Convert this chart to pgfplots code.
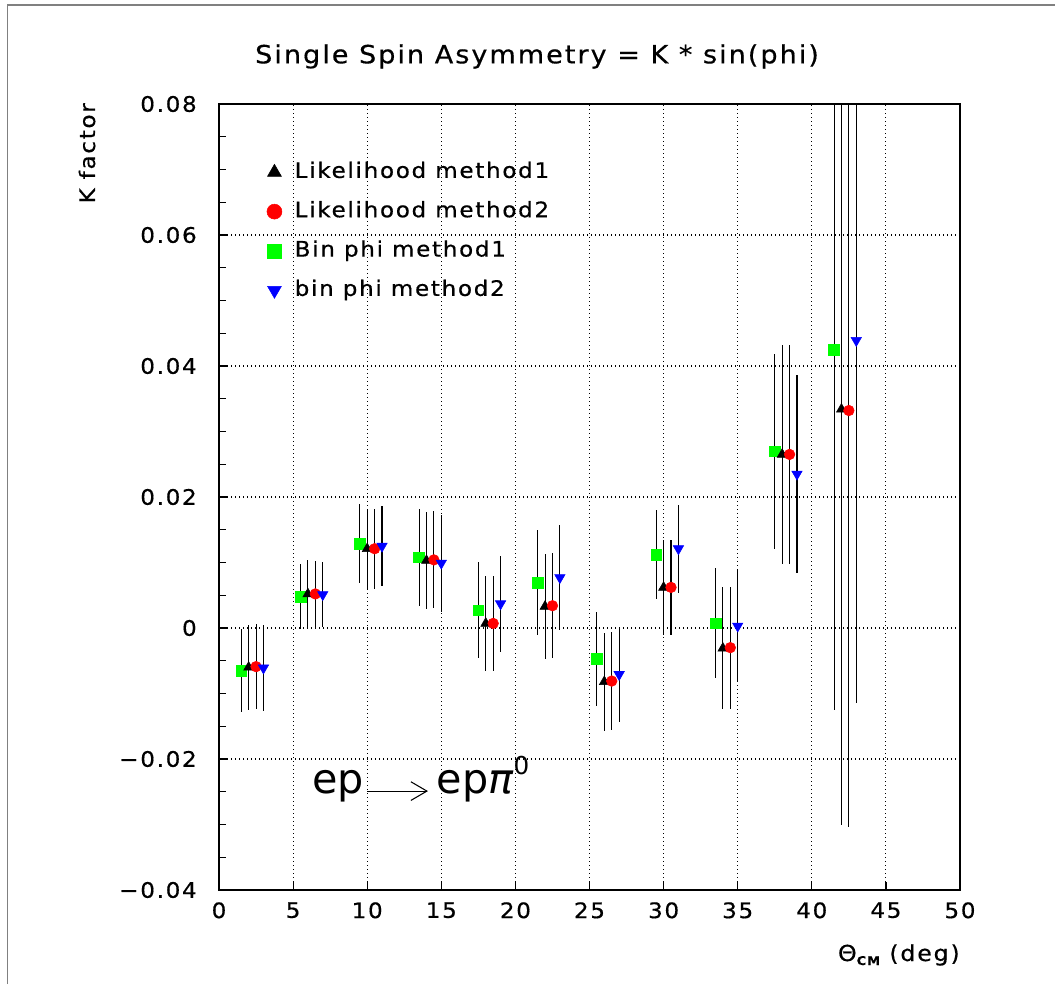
\documentclass[border=0pt]{standalone}
\usepackage{fontspec}
\setmainfont[LetterSpace=8, FakeStretch=1.08, FakeBold=0.5]{DejaVu Sans}
\newfontfamily\plainsans{DejaVu Sans}
\usepackage{pgfplots}
\pgfplotsset{compat=1.18}
\usetikzlibrary{arrows.meta}

\definecolor{pawred}{RGB}{255,0,0}
\definecolor{pawgreen}{RGB}{0,255,0}
\definecolor{pawblue}{RGB}{0,0,255}

\begin{document}
\begin{tikzpicture}
\useasboundingbox (-164.25pt,-70.5pt) rectangle (627pt,667.5pt);
% outer frame (only top and left visible)
\draw[gray, line width=1.1pt] (-158.6pt,-70.5pt) -- (-158.6pt,663.75pt) -- (627pt,663.75pt);
\begin{axis}[
    at={(0pt,0pt)}, anchor=south west,
    scale only axis, width=555.75pt, height=589.5pt,
    xmin=0, xmax=50, ymin=-0.04, ymax=0.08,
    xtick={0,5,10,15,20,25,30,35,40,45,50},
    xticklabels={0,5,10,15,20,25,30,35,40,45,50},
    ytick={-0.04,-0.02,0,0.02,0.04,0.06,0.08},
    yticklabels={−0.04,−0.02,0,0.02,0.04,0.06,0.08},
    scaled y ticks=false,
    minor y tick num=3,
    tick pos=left, tick align=inside,
    major tick length=6pt, minor tick length=5pt,
    every tick/.style={black, line width=0.9pt},
    grid=major,
    major grid style={black, line width=0.8pt, dash pattern=on 0.8pt off 2.2pt},
    axis line style={line width=1.2pt},
    ticklabel style={font=\fontsize{16}{19}\selectfont, inner sep=0pt},
    xticklabel style={yshift=-9pt},
    yticklabel style={xshift=-16.5pt},
    legend style={at={(0.059,0.9304)}, anchor=north west, draw=none, fill=none,
        font=\fontsize{16}{19}\selectfont, row sep=13.5pt, column sep=9.6pt,
        nodes={inner sep=0pt, text height=12.2pt, text depth=3.8pt}},
    legend cell align=left,
    legend image code/.code={\draw[#1] plot coordinates {(0pt,0pt)};},
    legend entries={Likelihood method1, Likelihood method2, Bin phi method1, bin phi method2},
    error bars/y dir=both, error bars/y explicit,
    error bars/error mark=none,
    error bars/error bar style={black, line width=0.8pt, solid},
]
\addlegendimage{only marks, mark=triangle*, mark size=6pt, black}
\addlegendimage{only marks, mark=*, mark size=5.6pt, pawred}
\addlegendimage{only marks, mark=square*, mark size=5.4pt, pawgreen}
\addlegendimage{only marks, mark=triangle*, mark size=6pt, pawblue, mark options={rotate=180}}

% Bin phi method1
\addplot[forget plot, only marks, mark=square*, mark size=4pt, pawgreen] coordinates {
  (1.5,-0.0065) +- (0,0.0064)
  (5.5,0.0048) +- (0,0.0049)
  (9.5,0.0129) +- (0,0.0060)
  (13.5,0.0108) +- (0,0.0074)
  (17.5,0.0027) +- (0,0.0073)
  (21.5,0.0069) +- (0,0.0080)
  (25.5,-0.0047) +- (0,0.0072)
  (29.5,0.0112) +- (0,0.0068)
  (33.5,0.0007) +- (0,0.0084)
  (37.5,0.0270) +- (0,0.0149)
  (41.5,0.0425) +- (0,0.0550)
};
% Likelihood method1
\addplot[forget plot, only marks, mark=triangle*, mark size=4.3pt, black] coordinates {
  (2,-0.0060) +- (0,0.0065)
  (6,0.0052) +- (0,0.0052)
  (10,0.0121) +- (0,0.0061)
  (14,0.0103) +- (0,0.0074)
  (18,0.0007) +- (0,0.0072)
  (22,0.0033) +- (0,0.0080)
  (26,-0.0082) +- (0,0.0075)
  (30,0.0062) +- (0,0.0072)
  (34,-0.0031) +- (0,0.0093)
  (38,0.0265) +- (0,0.0167)
  (42,0.0334) +- (0,0.0634)
};
% Likelihood method2
\addplot[forget plot, only marks, mark=*, mark size=4pt, pawred] coordinates {
  (2.5,-0.0059) +- (0,0.0065)
  (6.5,0.0052) +- (0,0.0051)
  (10.5,0.0121) +- (0,0.0061)
  (14.5,0.0104) +- (0,0.0074)
  (18.5,0.0007) +- (0,0.0072)
  (22.5,0.0034) +- (0,0.0080)
  (26.5,-0.0081) +- (0,0.0075)
  (30.5,0.0062) +- (0,0.0072)
  (34.5,-0.0030) +- (0,0.0093)
  (38.5,0.0265) +- (0,0.0167)
  (42.5,0.0332) +- (0,0.0636)
};
% bin phi method2
\addplot[forget plot, only marks, mark=triangle*, mark size=4.5pt, pawblue, mark options={rotate=180}] coordinates {
  (3,-0.0061) +- (0,0.0065)
  (7,0.0051) +- (0,0.0050)
  (11,0.0125) +- (0,0.0061)
  (15,0.0099) +- (0,0.0074)
  (19,0.0037) +- (0,0.0073)
  (23,0.0077) +- (0,0.0080)
  (27,-0.0071) +- (0,0.0072)
  (31,0.0121) +- (0,0.0067)
  (35,0.0003) +- (0,0.0085)
  (39,0.0235) +- (0,0.0151)
  (43,0.0439) +- (0,0.0554)
};

% reaction label
\node[anchor=base west, inner sep=0pt, font=\plainsans\fontsize{31}{31}\selectfont]
  at (axis cs:6.27,-0.0252) {ep};
\draw[-{Straight Barb[length=12pt,width=14pt]}, line width=0.8pt]
  (axis cs:9.99,-0.0249) -- (axis cs:14.1,-0.0249);
\node[anchor=base west, inner sep=0pt, font=\plainsans\fontsize{31}{31}\selectfont]
  at (axis cs:14.69,-0.0252) {ep{\itshape π}\raisebox{14pt}{\fontsize{18.5}{18.5}\selectfont 0}};
\end{axis}
% thicker left axis line
\draw[line width=2.2pt] (0pt,0pt) -- (0pt,589.5pt);
% title and axis titles
\node[anchor=base, inner sep=0pt, font=\fontsize{18.8}{22}\selectfont] at (238.5pt,620pt)
  {Single Spin Asymmetry = K * sin(phi)};
\node[anchor=base east, rotate=90, inner sep=0pt, font=\fontsize{16}{19}\selectfont] at (-93pt,590.25pt)
  {K factor};
\node[anchor=base east, inner sep=0pt, font=\fontsize{16.5}{19}\selectfont] at (555.75pt,-53.25pt)
  {Θ\raisebox{-3pt}{\fontsize{9}{9}\selectfont\bfseries CM} (deg)};
\end{tikzpicture}
\end{document}
